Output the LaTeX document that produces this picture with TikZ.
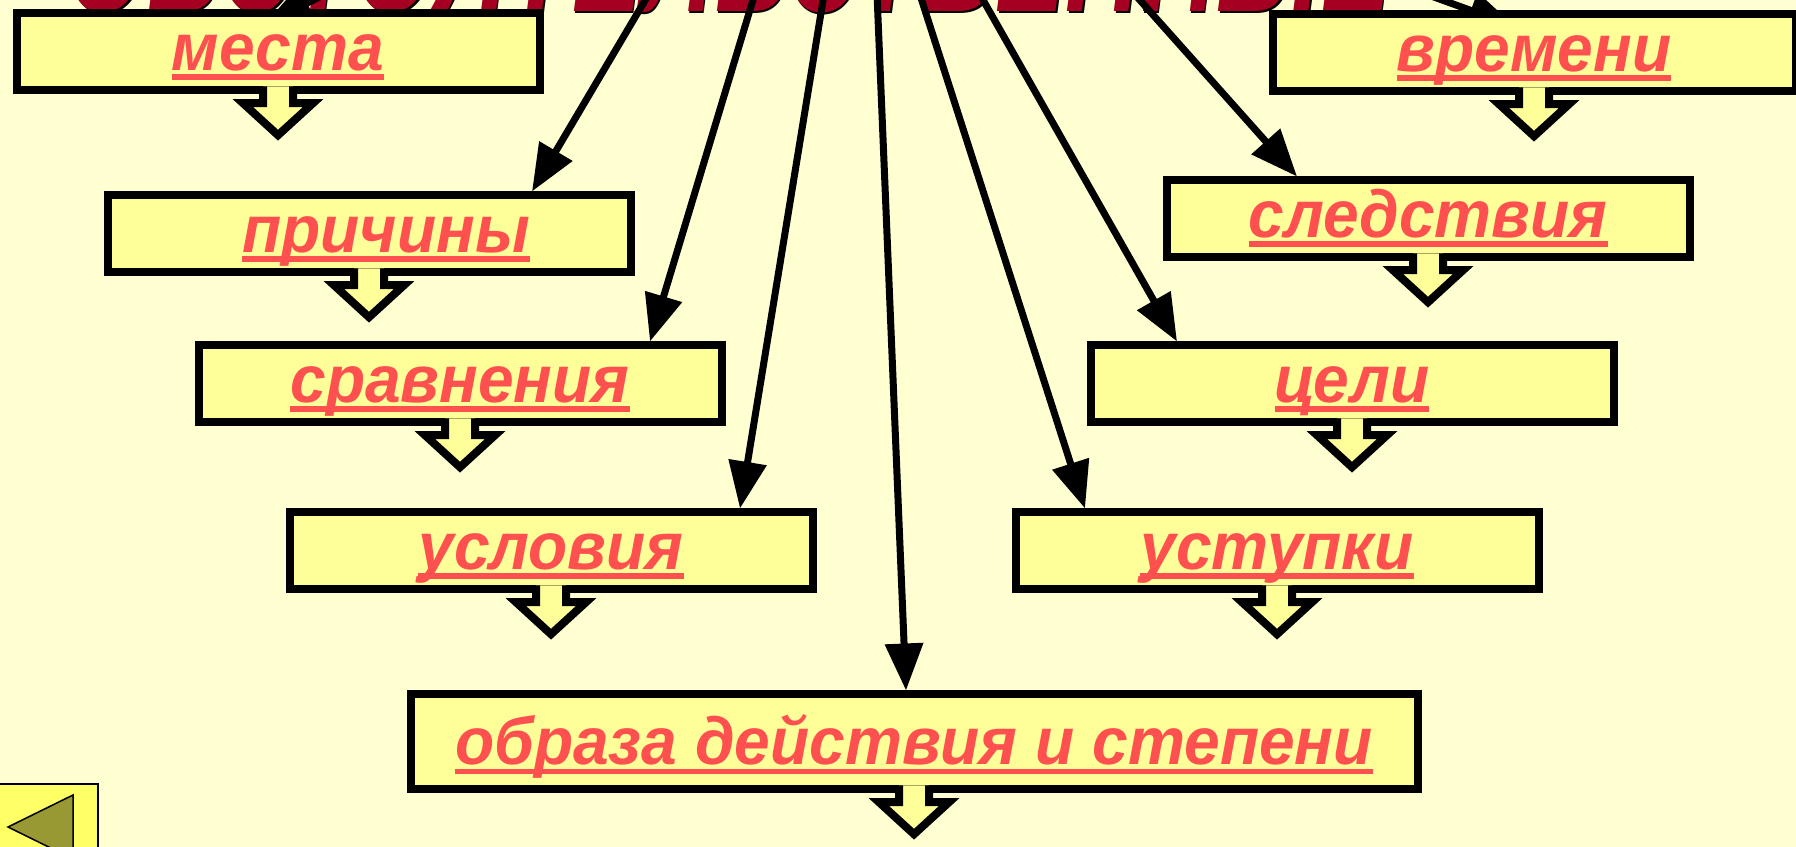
\documentclass[tikz,border=0pt]{standalone}
\usepackage{fontspec}
\setmainfont{Liberation Sans}
\newfontfamily\labelfont[FakeStretch=0.96]{Liberation Sans}
\usetikzlibrary{arrows.meta}
\definecolor{pagebg}{HTML}{FFFFD1}
\definecolor{boxyellow}{HTML}{FFFF99}
\definecolor{textred}{HTML}{FF5050}
\definecolor{titlered}{HTML}{A50021}
\definecolor{knobyellow}{HTML}{FFFF66}
\definecolor{knobolive}{HTML}{999933}
\pgfdeclarelayer{back}
\pgfdeclarelayer{wires}
\pgfsetlayers{back,wires,main}
\newcommand\ulword[1]{\setbox0\hbox{#1}\rlap{\rule[-0.093cm]{\wd0}{0.056cm}}\box0}
\newcommand\dropblock[1]{\draw[blockarrow] ([xshift=-0.15cm,yshift=0.08cm]#1.south) -- ++(0,-0.167) -- ++(-0.2,0) -- ++(0.35,-0.32) -- ++(0.35,0.32) -- ++(-0.2,0) -- ++(0,0.167);}
\begin{document}
\begin{tikzpicture}[font=\labelfont\fontsize{19}{23}\selectfont\bfseries\itshape,
  kindbox/.style={draw,line width=0.08cm,fill=boxyellow,text=textred,inner sep=0.05cm,minimum width=5.23cm,minimum height=0.77cm,text height=0.45cm,text depth=0.08cm},
  blockarrow/.style={draw,line width=0.08cm,fill=boxyellow},
  wire/.style={line width=0.07cm,-{Triangle[length=0.47cm,width=0.37cm]}}]
\useasboundingbox (0,0) rectangle (17.96,-8.47);
\begin{pgfonlayer}{back}
\fill[pagebg] (0,0) rectangle (17.96,-8.47);
\node[anchor=base west,inner sep=0,text=black] (headshade) at (0.665,-0.135) {\resizebox{13.25cm}{1.1cm}{ОБСТОЯТЕЛЬСТВЕННЫЕ}};
\node[anchor=base west,inner sep=0,text=titlered] (head) at (0.65,-0.12) {\resizebox{13.25cm}{1.1cm}{ОБСТОЯТЕЛЬСТВЕННЫЕ}};
\end{pgfonlayer}
\node[kindbox] (mesta) at (2.78,-0.52) {\ulword{места}};
\node[kindbox] (vremeni) at (15.34,-0.53) {\ulword{времени}};
\node[kindbox] (prichiny) at (3.69,-2.34) {\hspace*{0.34cm}\ulword{причины}};
\node[kindbox] (sledstviya) at (14.28,-2.19) {\ulword{следствия}};
\node[kindbox] (sravneniya) at (4.60,-3.84) {\ulword{сравнения}};
\node[kindbox] (celi) at (13.52,-3.84) {\ulword{цели}};
\node[kindbox] (usloviya) at (5.51,-5.51) {\ulword{условия}};
\node[kindbox] (ustupki) at (12.77,-5.51) {\ulword{уступки}};
\node[kindbox,minimum width=10.07cm,minimum height=0.95cm,text height=0.51cm,text depth=0.05cm] (obraza) at (9.14,-7.42) {\ulword{образа действия и степени}};
\dropblock{mesta}
\dropblock{vremeni}
\dropblock{prichiny}
\dropblock{sledstviya}
\dropblock{sravneniya}
\dropblock{celi}
\dropblock{usloviya}
\dropblock{ustupki}
\dropblock{obraza}
\draw[line width=0.02cm,fill=knobyellow] (-0.1,-7.84) rectangle (0.98,-8.6);
\draw[line width=0.015cm,fill=knobolive] (0.08,-8.27) -- (0.73,-7.95) -- (0.73,-8.59) -- cycle;
\begin{pgfonlayer}{wires}
\coordinate (tomesta) at (4.34,0.60);
\coordinate (toprichiny) at (6.63,0.30);
\coordinate (tosravneniya) at (7.62,0.30);
\coordinate (tousloviya) at (8.28,0.30);
\coordinate (toobraza) at (8.76,0.30);
\coordinate (toustupki) at (9.12,0.30);
\coordinate (toceli) at (9.66,0.30);
\coordinate (tosledstviya) at (11.13,0.30);
\coordinate (tovremeni) at (12.77,0.60);
\draw[wire] (tomesta) -- ([xshift=-0.13cm,yshift=-0.145cm]mesta.north);
\draw[wire] (toprichiny) -- ([xshift=1.63cm]prichiny.north);
\draw[wire] (tosravneniya) -- ([xshift=1.90cm]sravneniya.north);
\draw[wire] (tousloviya) -- ([xshift=1.89cm]usloviya.north);
\draw[wire] (toobraza) -- ([xshift=-0.08cm]obraza.north);
\draw[wire] (toustupki) -- ([xshift=-1.92cm]ustupki.north);
\draw[wire] (toceli) -- ([xshift=-1.75cm]celi.north);
\draw[wire] (tosledstviya) -- ([xshift=-1.31cm]sledstviya.north);
\draw[wire] (tovremeni) -- ([xshift=-0.19cm,yshift=-0.16cm]vremeni.north);
\end{pgfonlayer}
\end{tikzpicture}
\end{document}
